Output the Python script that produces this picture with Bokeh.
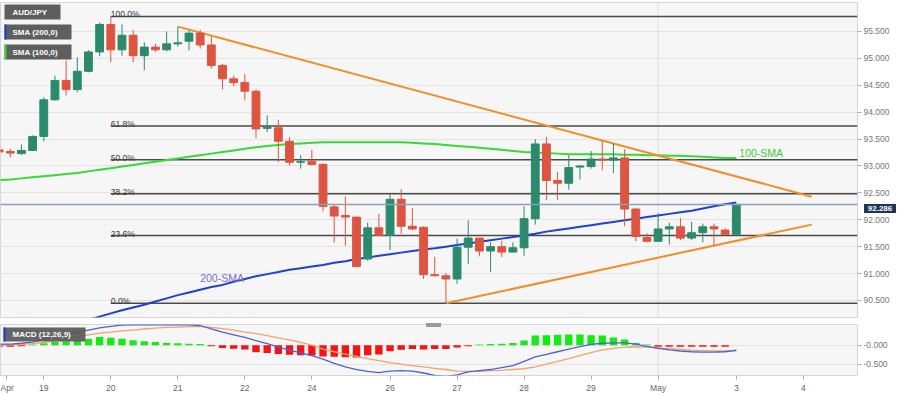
import numpy as np
from bokeh.plotting import figure
from bokeh.models import Range1d, FixedTicker, NumeralTickFormatter, ColumnDataSource, Span, Div
from bokeh.layouts import column
from bokeh.core.properties import value
from bokeh.embed import file_html
from bokeh.resources import INLINE

# ---------------- data (4H candles, AUD/JPY) ----------------
symbol = "AUD/JPY"
opens = [93.30, 93.27, 93.23, 93.29, 93.55, 94.23, 94.59, 94.42, 94.76, 95.12,
         95.63, 95.16, 95.43, 95.05, 95.21, 95.16, 95.27, 95.32, 95.47, 95.25,
         94.87, 94.62, 94.55, 94.39, 93.70, 93.71, 93.46, 93.07, 93.09, 93.03,
         92.24, 92.08, 92.05, 91.27, 91.85, 91.71, 92.38, 91.88, 91.86, 90.98,
         90.96, 90.90, 91.49, 91.66, 91.42, 91.50, 91.40, 91.48, 92.02, 93.41,
         92.73, 92.68, 92.98, 92.99, 93.13, 93.11, 93.15, 92.20, 91.67, 91.60,
         91.83, 91.87, 91.66, 91.76, 91.87, 91.81, 91.73]
highs = [93.35, 93.32, 93.40, 93.57, 94.28, 94.68, 94.96, 95.02, 95.15, 95.67,
         95.78, 95.63, 95.53, 95.30, 95.27, 95.50, 95.59, 95.52, 95.53, 95.41,
         94.90, 94.68, 94.71, 94.42, 93.94, 93.86, 93.54, 93.20, 93.30, 93.05,
         92.28, 92.43, 92.06, 91.95, 92.11, 92.48, 92.57, 92.22, 91.88, 91.31,
         91.01, 91.65, 91.99, 91.66, 91.58, 91.61, 91.58, 92.25, 93.50, 93.54,
         92.89, 93.20, 93.01, 93.28, 93.47, 93.41, 93.31, 92.22, 91.75, 92.12,
         91.95, 92.03, 91.96, 91.93, 91.93, 91.84, 92.29]
lows = [93.23, 93.16, 93.21, 93.28, 93.46, 94.22, 94.31, 94.37, 94.74, 95.04,
        94.93, 95.05, 94.93, 94.78, 95.12, 95.13, 95.22, 95.15, 95.18, 94.81,
        94.42, 94.48, 94.22, 93.52, 93.63, 93.07, 93.01, 92.95, 93.01, 92.16,
        91.58, 91.52, 91.12, 91.24, 91.71, 91.44, 91.74, 91.80, 90.90, 90.95,
        90.45, 90.81, 91.18, 91.32, 91.03, 91.31, 91.40, 91.33, 91.91, 92.36,
        92.37, 92.56, 92.75, 92.95, 92.92, 92.87, 91.88, 91.60, 91.58, 91.60,
        91.54, 91.62, 91.62, 91.58, 91.52, 91.71, 91.73]
closes = [93.26, 93.24, 93.29, 93.55, 94.23, 94.59, 94.42, 94.76, 95.12, 95.63,
          95.16, 95.43, 95.05, 95.21, 95.16, 95.27, 95.29, 95.47, 95.25, 94.87,
          94.62, 94.55, 94.39, 93.69, 93.72, 93.46, 93.07, 93.08, 93.03, 92.25,
          92.07, 92.05, 91.13, 91.85, 91.71, 92.38, 91.88, 91.83, 90.98, 90.96,
          90.90, 91.49, 91.66, 91.42, 91.50, 91.40, 91.48, 92.02, 93.41, 92.73,
          92.68, 92.97, 93.00, 93.13, 93.11, 93.15, 92.20, 91.69, 91.60, 91.83,
          91.87, 91.66, 91.76, 91.87, 91.83, 91.73, 92.286]

sma200_first = 7
sma200 = [90.08, 90.14, 90.20, 90.26, 90.32, 90.37, 90.42, 90.48, 90.54, 90.60,
          90.65, 90.70, 90.75, 90.79, 90.85, 90.90, 90.95, 90.99, 91.03, 91.07,
          91.10, 91.13, 91.16, 91.20, 91.23, 91.27, 91.30, 91.33, 91.36, 91.39,
          91.42, 91.45, 91.47, 91.50, 91.53, 91.56, 91.59, 91.62, 91.65, 91.68,
          91.71, 91.74, 91.78, 91.81, 91.84, 91.87, 91.90, 91.93, 91.96, 91.99,
          92.02, 92.05, 92.08, 92.11, 92.14, 92.17, 92.21, 92.25, 92.29, 92.32]
sma100 = [92.74, 92.75, 92.77, 92.79, 92.81, 92.83, 92.85, 92.87, 92.90, 92.93,
          92.96, 92.99, 93.02, 93.05, 93.08, 93.11, 93.14, 93.17, 93.20, 93.23,
          93.26, 93.29, 93.32, 93.35, 93.37, 93.39, 93.41, 93.42, 93.43, 93.44,
          93.44, 93.44, 93.44, 93.44, 93.44, 93.44, 93.44, 93.43, 93.42, 93.41,
          93.39, 93.37, 93.36, 93.34, 93.32, 93.30, 93.28, 93.26, 93.25, 93.24,
          93.23, 93.22, 93.22, 93.22, 93.22, 93.22, 93.21, 93.21, 93.20, 93.20,
          93.19, 93.19, 93.18, 93.17, 93.16, 93.15, 93.15]

macd_line = [0.03, 0.03, 0.05, 0.08, 0.15, 0.22, 0.27, 0.33, 0.39, 0.45,
             0.49, 0.52, 0.53, 0.53, 0.53, 0.53, 0.53, 0.53, 0.51, 0.42,
             0.34, 0.27, 0.20, 0.12, 0.04, -0.05, -0.13, -0.20, -0.27, -0.36,
             -0.47, -0.56, -0.63, -0.68, -0.71, -0.67, -0.66, -0.67, -0.72, -0.78,
             -0.81, -0.77, -0.69, -0.66, -0.63, -0.58, -0.53, -0.42, -0.30, -0.24,
             -0.17, -0.10, -0.04, 0.02, 0.05, 0.06, 0.06, 0.03, -0.03, -0.08,
             -0.12, -0.15, -0.17, -0.18, -0.18, -0.17, -0.13]
macd_signal = [0.00, 0.01, 0.02, 0.04, 0.07, 0.11, 0.16, 0.22, 0.27, 0.31,
               0.34, 0.37, 0.39, 0.42, 0.44, 0.46, 0.47, 0.48, 0.48, 0.46,
               0.43, 0.39, 0.34, 0.30, 0.25, 0.19, 0.14, 0.07, 0.00, -0.10,
               -0.17, -0.23, -0.29, -0.35, -0.40, -0.45, -0.49, -0.53, -0.56, -0.60,
               -0.63, -0.67, -0.68, -0.68, -0.66, -0.65, -0.63, -0.61, -0.56, -0.49,
               -0.42, -0.35, -0.27, -0.19, -0.12, -0.08, -0.05, -0.04, -0.05, -0.07,
               -0.09, -0.11, -0.13, -0.14, -0.15, -0.15, -0.15]
macd_hist = [-0.04, -0.04, -0.03, 0.02, 0.05, 0.08, 0.10, 0.13, 0.16, 0.21,
             0.19, 0.17, 0.13, 0.10, 0.08, 0.06, 0.05, 0.04, 0.03, -0.03,
             -0.07, -0.09, -0.11, -0.18, -0.20, -0.23, -0.25, -0.26, -0.27, -0.29,
             -0.30, -0.31, -0.32, -0.26, -0.24, -0.16, -0.12, -0.10, -0.11, -0.10,
             -0.10, -0.06, -0.03, 0.02, 0.03, 0.04, 0.06, 0.12, 0.25, 0.26,
             0.27, 0.28, 0.28, 0.26, 0.25, 0.20, 0.15, 0.06, 0.02, -0.04,
             -0.04, -0.04, -0.04, -0.04, -0.04, -0.04, 0.0]

tick_pos = [0.7, 4, 10, 16, 22, 28, 35, 41, 47, 53, 59, 66, 72]
tick_labels = ["Apr", "19", "20", "21", "22", "24", "26", "27", "28", "29", "May", "3", "4"]
price_ticks = [90.5, 91.0, 91.5, 92.0, 92.5, 93.0, 93.5, 94.0, 94.5, 95.0, 95.5]
macd_ticks = [0, -0.5]
macd_tick_labels = ["-0.000", "-0.500"]

fib_ratios = [1.0, 0.618, 0.5, 0.382, 0.236, 0.0]
fib_labels = ["100.0%", "61.8%", "50.0%", "38.2%", "23.6%", "0.0%"]

upper_trend_x = [16, 72.75]
upper_trend_y = [95.59, 92.43]
lower_trend_x = [40, 72.75]
lower_trend_y = [90.45, 91.91]

# ---------------- style ----------------
FONT = "Liberation Sans"
GREEN = "#2b8a6c"
RED = "#dd5540"
BG = "#f6f6f6"

x_start, x_end = 0.125, 76.85
y_start, y_end = 90.184, 96.039
m_start, m_end = -0.785, 0.536
FW, MAIN_H, FH = 857, 320, 315
MACD_H, MFH = 75, 51

def px2x(px):
    return x_start + px * (x_end - x_start) / FW

def py2y(py):  # main canvas pixel -> price
    return y_end - (py - 2) * (y_end - y_start) / FH

def pm2y(py):  # macd canvas (relative) pixel -> value
    return m_end - (py - 4) * (m_end - m_start) / MFH

def y2py(v):  # price -> main canvas pixel
    return 2 + (y_end - v) * FH / (y_end - y_start)

idx = np.arange(len(opens))
o = np.array(opens); c = np.array(closes); h = np.array(highs); l = np.array(lows)
cols = np.where(c >= o, GREEN, RED)

p = figure(width=906, height=MAIN_H, x_range=Range1d(x_start, x_end), y_range=Range1d(y_start, y_end),
           output_backend="svg", toolbar_location=None, x_axis_location=None, y_axis_location="right",
           min_border_left=0, min_border_right=49, min_border_top=2, min_border_bottom=3,
           background_fill_color=BG, border_fill_color="white", outline_line_color="#d6d6d6")
p.xgrid.visible = False
p.ygrid.grid_line_color = "#e3e3e3"
p.ygrid.ticker = FixedTicker(ticks=price_ticks)
p.yaxis.ticker = FixedTicker(ticks=price_ticks)
p.yaxis.formatter = NumeralTickFormatter(format="0.000")
p.yaxis.axis_line_color = None
p.yaxis.major_tick_out = 4
p.yaxis.major_tick_in = 0
p.yaxis.minor_tick_line_color = None
p.yaxis.major_tick_line_color = "#aaaaaa"
p.yaxis.major_label_text_font = FONT
p.yaxis.major_label_text_font_size = "8.5px"
p.yaxis.major_label_text_color = "#777777"
p.yaxis.major_label_standoff = 2

may_x = tick_pos[tick_labels.index("May")]
p.add_layout(Span(location=may_x, dimension="height", line_color="#e0e0e0", line_width=1, level="underlay"))

# fibonacci
hi_i = int(np.argmax(h)); lo_i = int(np.argmin(l))
hi_v, lo_v = h[hi_i], l[lo_i]
fib_levels = [lo_v + r * (hi_v - lo_v) for r in fib_ratios]
p.segment(x0=[hi_i] * len(fib_levels), y0=fib_levels, x1=[x_end] * len(fib_levels), y1=fib_levels,
          line_color="#4a4a4a", line_width=1.5)
p.text(x=[hi_i] * len(fib_levels), y=fib_levels, text=fib_labels, text_font=value(FONT),
       text_font_size="8.5px", text_color="#3a3a3a", text_baseline="alphabetic", y_offset=-2)

# last price line
p.add_layout(Span(location=closes[-1], dimension="width", line_color="#8d9fb4", line_width=1.5))

# SMAs
p.line(list(range(sma200_first, sma200_first + len(sma200))), sma200, line_color="#1f3fd6", line_width=2)
p.line(list(idx), sma100, line_color="#37d837", line_width=2)

# trend lines
p.line(upper_trend_x, upper_trend_y, line_color="#f08f2a", line_width=2)
p.line(lower_trend_x, lower_trend_y, line_color="#f08f2a", line_width=2)

# candles
src = ColumnDataSource(dict(x=idx, h=h, l=l, top=np.maximum(o, c), bot=np.minimum(o, c), col=cols))
p.segment(x0="x", y0="h", x1="x", y1="l", line_color="col", line_width=1, source=src)
p.vbar(x="x", width=0.7, top="top", bottom="bot", fill_color="col", line_color="col", line_width=1, source=src)

# SMA labels
p.text(x=[18], y=[sma200[18 - sma200_first]], text=["200-SMA"], text_font=value(FONT), text_font_size="10.5px",
       text_color="#7a6cd4", text_baseline="middle", y_offset=-12)
p.text(x=[idx[-1]], y=[sma100[-1]], text=["100-SMA"], text_font=value(FONT), text_font_size="10.5px",
       text_color="#36cf36", text_baseline="middle", x_offset=3, y_offset=-5)

# legend boxes (top-left)
boxes = [(symbol, 60, 4, 19, None), ("SMA (200,0)", 71, 24, 39, "#1f3fd6"), ("SMA (100,0)", 71, 44, 59, "#37d837")]
for txt, right, top, bot, bar in boxes:
    p.quad(left=[px2x(4)], right=[px2x(right)], top=[py2y(top)], bottom=[py2y(bot)],
           fill_color="#555555", fill_alpha=0.95, line_color=None)
    if bar:
        p.quad(left=[px2x(4)], right=[px2x(6)], top=[py2y(top)], bottom=[py2y(bot)],
               fill_color=bar, line_color=None)
    p.text(x=[px2x(12)], y=[py2y((top + bot) / 2)], text=[txt], text_font=value(FONT), text_font_size="8px",
           text_font_style="bold", text_color="white", text_baseline="middle")

# ---------------- MACD panel ----------------
q = figure(width=906, height=MACD_H, x_range=p.x_range, y_range=Range1d(m_start, m_end),
           output_backend="svg", toolbar_location=None, y_axis_location="right",
           min_border_left=0, min_border_right=49, min_border_top=4, min_border_bottom=20,
           background_fill_color=BG, border_fill_color="white", outline_line_color="#d6d6d6")
q.xgrid.visible = False
q.ygrid.ticker = FixedTicker(ticks=macd_ticks)
q.ygrid.grid_line_color = "#e3e3e3"
q.yaxis.ticker = FixedTicker(ticks=macd_ticks)
q.yaxis.major_label_overrides = {t: s for t, s in zip(macd_ticks, macd_tick_labels)}
q.yaxis.axis_line_color = None
q.yaxis.major_tick_out = 4
q.yaxis.major_tick_in = 0
q.yaxis.minor_tick_line_color = None
q.yaxis.major_tick_line_color = "#aaaaaa"
q.yaxis.major_label_text_font = FONT
q.yaxis.major_label_text_font_size = "8.5px"
q.yaxis.major_label_text_color = "#777777"
q.yaxis.major_label_standoff = 2

q.xaxis.ticker = FixedTicker(ticks=tick_pos)
q.xaxis.major_label_overrides = {t: s for t, s in zip(tick_pos, tick_labels)}
q.xaxis.axis_line_color = None
q.xaxis.major_tick_out = 4
q.xaxis.major_tick_in = 0
q.xaxis.minor_tick_line_color = None
q.xaxis.major_tick_line_color = "#aaaaaa"
q.xaxis.major_label_text_font = FONT
q.xaxis.major_label_text_font_size = "8.5px"
q.xaxis.major_label_text_color = "#666666"
q.xaxis.major_label_standoff = 3

q.add_layout(Span(location=may_x, dimension="height", line_color="#e0e0e0", line_width=1, level="underlay"))

hist = np.array(macd_hist)
hcols = np.where(hist >= 0, "#16ea16", "#f31515")
q.vbar(x=idx, top=hist, bottom=0, width=0.66, fill_color=hcols, line_color=None)
q.line(list(idx), macd_signal, line_color="#f3a26a", line_width=1.3)
q.line(list(idx), macd_line, line_color="#4c60dc", line_width=1.3)

q.quad(left=[px2x(3)], right=[px2x(85)], top=[pm2y(7)], bottom=[pm2y(21)],
       fill_color="#555555", fill_alpha=0.9, line_color=None)
q.quad(left=[px2x(3)], right=[px2x(5)], top=[pm2y(7)], bottom=[pm2y(21)],
       fill_color="#1f3fd6", line_color=None)
q.text(x=[px2x(12)], y=[pm2y(14)], text=["MACD (12,26,9)"], text_font=value(FONT), text_font_size="8px",
       text_font_style="bold", text_color="white", text_baseline="middle")

# last-price tag on the price axis and the panel splitter (overlaid HTML, outside the plot frames)
tag_top = int(round(y2py(closes[-1]) - 4.5))
price_tag = Div(text="%.3f" % closes[-1], width=32, height=9,
                styles={"position": "absolute", "left": "%dpx" % (FW + 2), "top": "%dpx" % tag_top,
                        "width": "32px", "height": "9px", "background-color": "#1c3654", "color": "white",
                        "font-family": "'Liberation Sans', Arial, sans-serif", "font-weight": "bold",
                        "font-size": "8px", "line-height": "9px", "text-align": "center",
                        "z-index": "10", "overflow": "hidden"})
splitter = Div(text="", width=15, height=4,
               styles={"position": "absolute", "left": "421px", "top": "318px", "width": "15px",
                       "height": "4px", "background-color": "#9a9a9a", "z-index": "10"})

layout = column(p, q, price_tag, splitter, spacing=0)
open("out.html", "w").write(file_html(layout, INLINE))
